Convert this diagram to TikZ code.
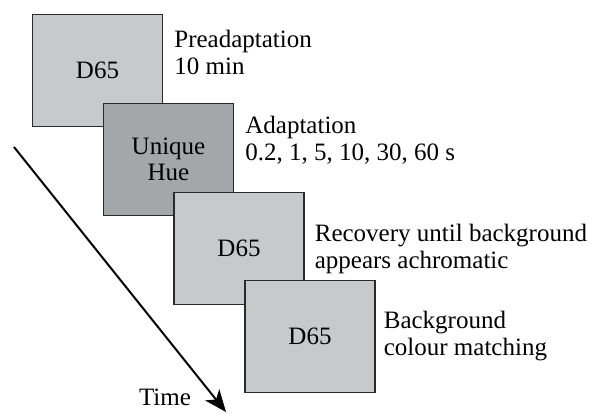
\documentclass[tikz,border=0pt]{standalone}
\usepackage{fontspec}
\setmainfont{Liberation Serif}
\usetikzlibrary{arrows.meta, positioning}

\definecolor{lightpatch}{HTML}{C8C9CB}
\definecolor{huepatch}{HTML}{A5A6A8}
\definecolor{edgegrey}{HTML}{2A2A2A}

\begin{document}
\begin{tikzpicture}[x=1pt, y=-1pt]
        \tikzstyle{patch} = [rectangle, draw=edgegrey, line width=1.3pt, fill=lightpatch, align=center, minimum width=130pt, minimum height=112pt, font=\fontsize{25}{26}\selectfont]
        \tikzstyle{phase} = [align=left, inner sep=0pt, font=\fontsize{25}{27}\selectfont]
        \useasboundingbox (0,0) rectangle (592,413);
        % stimulus sequence
        \node (pre) [patch] at (97.5,70.5) {D65};
        \node (adapt) [patch, fill=huepatch] at (168.5,159.5) {Unique\\Hue};
        \node (recov) [patch] at (239,248.5) {D65};
        \node (match) [patch] at (310,336.5) {D65};
        % phase descriptions
        \node (prelbl) [phase, right=11pt of pre, yshift=18pt] {Preadaptation\\10 min};
        \node (adaptlbl) [phase, right=11pt of adapt, yshift=19pt] {Adaptation\\0.2, 1, 5, 10, 30, 60 s};
        \node (recovlbl) [phase, right=10pt of recov] {Recovery until background\\appears achromatic};
        \node (matchlbl) [phase, right=8pt of match] {Background\\colour matching};
        % time axis
        \coordinate (tstart) at (14,147);
        \coordinate (tend) at (226,412);
        \draw [line width=2pt, -{Stealth[length=22pt, width=18pt, inset=6pt]}] (tstart) -- (tend);
        \node (time) [phase] at (165,397) {Time};
\end{tikzpicture}
\end{document}
